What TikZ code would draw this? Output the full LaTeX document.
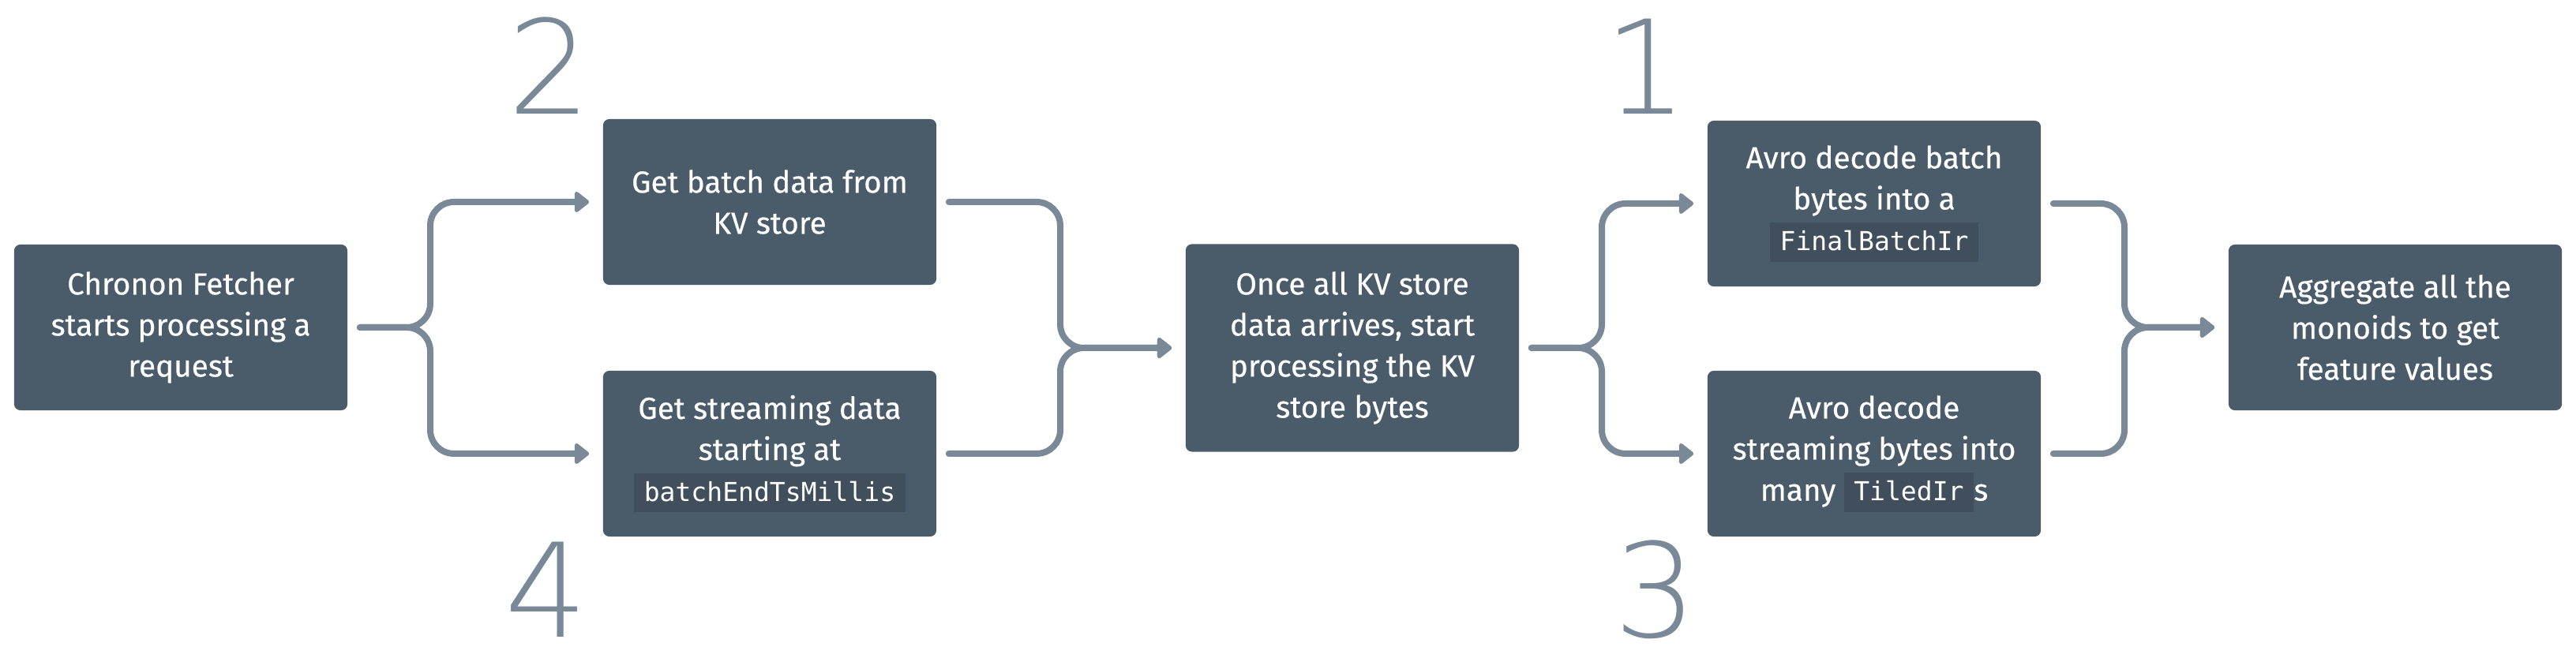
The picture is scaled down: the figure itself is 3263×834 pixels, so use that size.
\documentclass[tikz,border=0pt]{standalone}
\usepackage{fontspec}
\setmainfont{Fira Sans}[UprightFeatures={FakeBold=0.4}]
\newfontfamily\codefont{DejaVu Sans Mono}
\newfontfamily\stepfont{DejaVuSans-ExtraLight.ttf}
\usepackage{xcolor}
\usetikzlibrary{arrows.meta, positioning}
\definecolor{boxfill}{RGB}{74,91,106}
\definecolor{codefill}{RGB}{65,79,93}
\definecolor{linkcol}{RGB}{122,137,151}
\newcommand{\code}[1]{{\setlength{\fboxsep}{0pt}\colorbox{codefill}{\rule[-4pt]{0pt}{14pt}\hspace{3.6pt}{\codefont\fontsize{9.4pt}{14.8pt}\selectfont #1}\hspace{3.6pt}}}}
\tikzset{
>={Triangle[length=0.2cm, width=0.3cm, round]}, % filled heads on every link
block/.style={fill=boxfill, text=white, rounded corners=0.08cm, align=center,
  minimum width=4.22cm, minimum height=2.1cm, inner sep=0pt,
  font=\fontsize{11pt}{14.8pt}\selectfont}, % the dark steps
link/.style={->, draw=linkcol, line width=0.08cm, line cap=round, line join=round,
  rounded corners=0.3cm, shorten <=0.15cm, shorten >=0.17cm}, % brace shaped connectors
stepnum/.style={text=linkcol, inner sep=0pt, font=\stepfont\fontsize{47pt}{47pt}\selectfont}, % big order numbers
}

\begin{document}
\begin{tikzpicture}[x=0.01cm, y=-0.01cm]
    \fill[white] (0,0) rectangle (3263,834);
    \useasboundingbox (0,0) rectangle (3263,834);

    \node[block] (fetch) at (229,415) {Chronon Fetcher\\starts processing a\\request};
    \node[block] (batch) at (975,256) {Get batch data from\\KV store};
    \node[block] (stream) at (975,575) {Get streaming data\\starting at\\\code{batchEndTsMillis}};
    \node[block, minimum height=2.63cm] (kvbytes) at (1713,441) {Once all KV store\\data arrives, start\\processing the KV\\store bytes};
    \node[block] (decbatch) at (2374,258) {Avro decode batch\\bytes into a\\\code{FinalBatchIr}};
    \node[block] (decstream) at (2374,575) {Avro decode\\streaming bytes into\\many \code{TiledIr}s};
    \node[block] (aggregate) at (3034,415) {Aggregate all the\\monoids to get\\feature values};

    \node[stepnum] (two) at (696,83) {2};
    \node[stepnum] (four) at (692,747) {4};
    \node[stepnum] (one) at (2085,84) {1};
    \node[stepnum] (three) at (2097,747) {3};

    \coordinate (sp1) at (545,0);
    \coordinate (sp2) at (1343,0);
    \coordinate (sp3) at (2029,0);
    \coordinate (sp4) at (2691,0);

    \draw[link] (fetch) -- (fetch -| sp1) -- (batch -| sp1) -- (batch);
    \draw[link] (fetch) -- (fetch -| sp1) -- (stream -| sp1) -- (stream);
    \draw[link] (batch) -- (batch -| sp2) -- (kvbytes -| sp2) -- (kvbytes);
    \draw[link] (stream) -- (stream -| sp2) -- (kvbytes -| sp2) -- (kvbytes);
    \draw[link] (kvbytes) -- (kvbytes -| sp3) -- (decbatch -| sp3) -- (decbatch);
    \draw[link] (kvbytes) -- (kvbytes -| sp3) -- (decstream -| sp3) -- (decstream);
    \draw[link] (decbatch) -- (decbatch -| sp4) -- (aggregate -| sp4) -- (aggregate);
    \draw[link] (decstream) -- (decstream -| sp4) -- (aggregate -| sp4) -- (aggregate);
\end{tikzpicture}
\end{document}
